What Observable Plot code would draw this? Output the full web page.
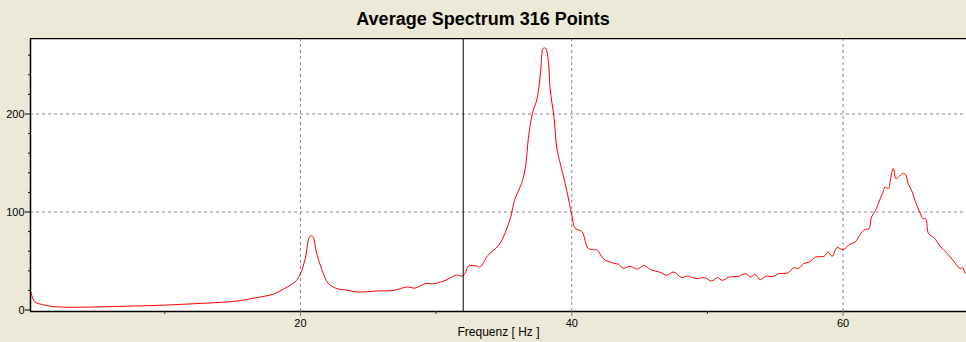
<!DOCTYPE html>
<html>
<head>
<meta charset="utf-8">
<script src="https://cdn.jsdelivr.net/npm/d3@7"></script>
<script src="https://cdn.jsdelivr.net/npm/@observablehq/plot@0.6"></script>
<style>
  html, body { margin: 0; padding: 0; background: #ECE9D8; }
  #title { height: 38px; line-height: 38px; text-align: center; font-family: "Liberation Sans", Arial, sans-serif; font-weight: bold; font-size: 18px; color: #000; }
  #chart svg { display: block; }
</style>
</head>
<body>
<div id="title">Average Spectrum 316 Points</div>
<div id="chart"></div>
<script>
const freq = [0.1,0.4,1.0,1.6,2.4,3.4,4.5,6.3,7.5,8.8,10.0,11.2,12.7,14.2,15.5,16.6,17.4,18.1,18.8,19.6,20.0,20.35,20.7,20.9,21.2,21.6,22.05,22.7,23.2,24.3,25.6,26.9,27.85,28.45,29.2,29.9,30.8,31.5,31.9,32.15,32.4,33.0,33.25,33.8,34.6,35.1,35.5,35.8,36.3,36.6,36.8,37.1,37.45,37.7,37.9,38.07,38.3,38.4,38.7,38.9,39.3,39.65,40.0,40.25,40.75,41.2,41.6,41.9,42.35,43.1,43.45,43.8,44.3,44.8,45.05,45.35,45.8,46.5,47.0,47.5,48.1,48.5,49.2,49.8,50.3,50.75,51.1,51.6,52.3,52.8,53.2,53.5,53.9,54.3,54.9,55.25,55.9,56.4,56.7,57.1,57.5,58.0,58.6,58.9,59.2,59.55,60.0,60.5,60.9,61.3,61.6,61.9,62.1,62.4,62.6,62.9,63.1,63.35,63.5,63.7,63.9,64.1,64.4,64.6,64.8,65.1,65.3,65.7,65.9,66.1,66.3,66.7,67.2,67.7,68.2,68.65,68.8,69.0,69.1];
const amplitude = [20,8.5,5.5,3.8,3.0,2.8,3.0,3.6,4.0,4.5,5.0,5.8,6.8,7.9,9.5,12.2,14.2,16.7,21.8,28.6,37,52.4,75.2,75.2,57.5,40.5,27.2,21.8,20.8,18.4,19.4,20.1,23.5,22.4,26.9,26.9,31.0,35.7,34.6,37.8,45.0,44.8,43.9,55.5,65.8,79,95,113,129,147,175,200.7,216,243,267,267,250,226,195.6,165,141.2,120.8,96.9,83.4,80,63,61.6,60.9,52,47.7,46.6,42.6,44.6,41.8,43.3,45.6,41.2,38.6,35.4,38.8,33.1,34.7,32.0,33.1,29.6,33.1,30.3,33.7,34.4,37.1,33.7,36.4,31.0,34.4,34.4,37.1,37.8,43.3,42.2,47.3,49.0,54.1,54.8,59.2,54.8,63.7,61.6,67,69.4,78,82,83,94.9,101.7,108.6,118.8,125.5,123.9,134,144.3,134,135.8,139.2,138.5,129,120.4,111.9,98.4,93.2,93.2,78,73.9,64.3,57.5,49,42.2,43.3,37.8,38];
const xTicks = [20, 40, 60];
const xMinorTicks = [10, 30, 50];
const yTicks = [0, 100, 200];
const yMinorTicks = [20, 40, 60, 80, 120, 140, 160, 180, 220, 240, 260];
const gridX = [20, 40, 60];
const gridY = [100, 200];
const cursorFreq = [32];
const xLabel = "Frequenz [ Hz ]";

const xDomain = [0.1, 69.1];
const yDomain = [-1.5, 277];

const data = freq.map((f, i) => ({f, a: amplitude[i]}));

const chart = Plot.plot({
  width: 966,
  height: 304,
  marginTop: 0,
  marginLeft: 30,
  marginRight: 0,
  marginBottom: 31,
  x: {domain: xDomain},
  y: {domain: yDomain},
  style: {background: "none", fontFamily: "'Liberation Sans', Arial, sans-serif", fontSize: "11px", color: "#000"},
  marks: [
    Plot.frame({fill: "white", stroke: null}),
    Plot.ruleX(gridX, {stroke: "#888", strokeDasharray: "3,3", strokeWidth: 1}),
    Plot.ruleY(gridY, {stroke: "#888", strokeDasharray: "3,3", strokeWidth: 1}),
    Plot.line(data, {x: "f", y: "a", stroke: "#ff0000", strokeWidth: 1, curve: "catmull-rom"}),
    Plot.ruleX(cursorFreq, {stroke: "#000", strokeWidth: 1}),
    Plot.ruleX([xDomain[0]], {stroke: "#000", strokeWidth: 1.5}),
    Plot.ruleY([yDomain[0]], {stroke: "#000", strokeWidth: 1.5}),
    Plot.ruleY([yDomain[1]], {stroke: "#000", strokeWidth: 1.5}),
    Plot.axisX(xTicks, {tickSize: 5, tickPadding: 3, stroke: "#777", label: null, fontSize: 11}),
    Plot.axisX(xMinorTicks, {tickSize: 3, tickFormat: () => "", label: null, stroke: "#333"}),
    Plot.axisY(yTicks, {tickSize: 5, tickPadding: 1, label: null, fontSize: 11}),
    Plot.axisY(yMinorTicks, {tickSize: 2, tickFormat: () => "", label: null}),
    Plot.text([xLabel], {frameAnchor: "bottom", dy: 24, fontSize: 12, fill: "#000"})
  ]
});
document.getElementById("chart").appendChild(chart);
</script>
</body>
</html>
